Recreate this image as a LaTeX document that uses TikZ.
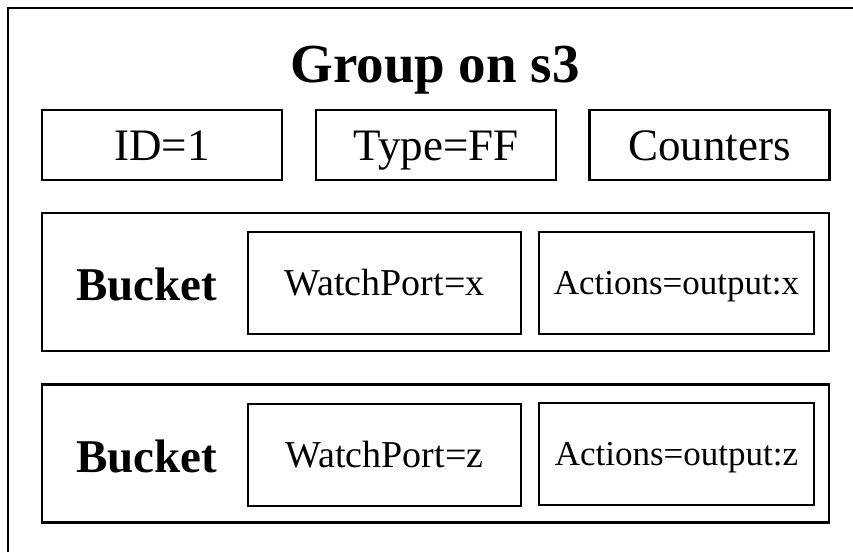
\documentclass[tikz,border=0pt]{standalone}
\usepackage{fontspec}
\setmainfont{Liberation Serif}
\begin{document}
\begin{tikzpicture}[x=1pt,y=-1pt,
	field/.style={shape=rectangle,draw,line width=2.2pt,inner sep=0pt,text depth=0pt},
	topfield/.style={field,minimum width=240,minimum height=70,text height=31pt,font=\fontsize{45}{50}\selectfont},
	portfield/.style={field,minimum width=273,minimum height=102,text height=25pt,font=\fontsize{38}{42}\selectfont},
	actfield/.style={field,minimum width=275,minimum height=102,text height=23pt,font=\fontsize{35}{40}\selectfont},
	bucketbox/.style={shape=rectangle,draw,line width=2.2pt,minimum width=787,minimum height=138},
	bucketname/.style={anchor=base,font=\fontsize{47}{50}\selectfont\bfseries}]
	\useasboundingbox (0,0) rectangle (853,552);
	\draw[line width=2.2pt] (8,552) -- (8,8) -- (853,8);
	\node[anchor=base,font=\fontsize{55}{60}\selectfont\bfseries](a) at (435,82){Group on s3};
	\node[topfield](b) at (162,145){ID=1};
	\node[topfield](c) at (436,145){Type=FF};
	\node[topfield](d) at (709.5,145){Counters};
	% first bucket
	\node[bucketbox](e) at (435.5,282){};
	\node[bucketname](f) at (147,300){Bucket};
	\node[portfield](g) at (384.5,283){WatchPort=x};
	\node[actfield](h) at (676.5,283){Actions=output:x};
	% second bucket
	\node[bucketbox](i) at (435.5,453.5){};
	\node[bucketname](j) at (147,472){Bucket};
	\node[portfield](k) at (384.5,455){WatchPort=z};
	\node[actfield](l) at (676.5,454){Actions=output:z};
\end{tikzpicture}
\end{document}
